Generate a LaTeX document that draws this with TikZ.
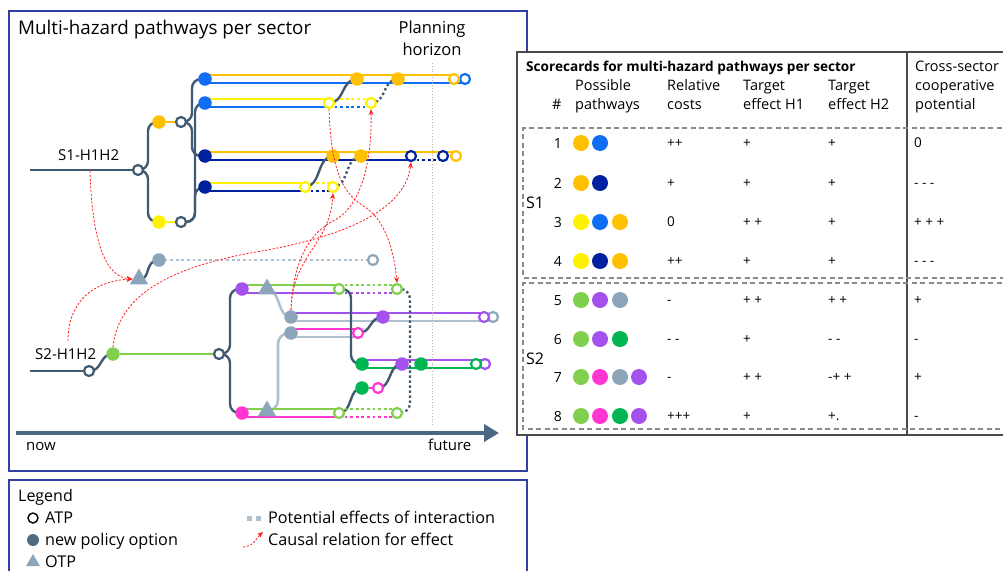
\documentclass[tikz,border=0pt]{standalone}
\usepackage{fontspec}
\setmainfont{Open Sans}
\usetikzlibrary{arrows.meta,shapes.geometric,calc}
\definecolor{slate}{HTML}{3F5A72}
\definecolor{axisc}{HTML}{4A6884}
\definecolor{lslate}{HTML}{8CA5BB}
\definecolor{lline}{HTML}{AFC0CE}
\definecolor{orng}{HTML}{FFC000}
\definecolor{blu}{HTML}{0F6EF5}
\definecolor{navy}{HTML}{0020A0}
\definecolor{ylw}{HTML}{FFF200}
\definecolor{lgrn}{HTML}{80D04E}
\definecolor{prpl}{HTML}{A452EE}
\definecolor{pnk}{HTML}{FF36D2}
\definecolor{dgrn}{HTML}{00B652}
\definecolor{redc}{HTML}{FF2222}
\definecolor{framec}{HTML}{3341A6}
\definecolor{tgray}{HTML}{4A4A4A}
\definecolor{dgray}{HTML}{8A8A8A}
\newcommand\fsz[1]{\fontsize{#1}{#1}\selectfont}
\pgfdeclarelayer{bg}\pgfdeclarelayer{fg}\pgfsetlayers{bg,main,fg}
\begin{document}
\begin{tikzpicture}[x=1pt,y=-1pt,
  fc/.style={circle,fill=#1,inner sep=0pt,minimum size=13.5pt},
  oc/.style={circle,draw=#1,line width=2.2pt,fill=white,inner sep=0pt,minimum size=10pt},
  cl/.style={draw=#1,line width=2.9pt},
  dl/.style={draw=#1,line width=2.9pt,dash pattern=on 2.8pt off 2.8pt},
  sl/.style={draw=slate,line width=2.4pt,rounded corners=9pt},
  sld/.style={draw=slate,line width=2.4pt,dash pattern=on 2.4pt off 2.6pt,rounded corners=10pt},
  ll/.style={draw=lline,line width=2.6pt,rounded corners=11pt},
  otp/.style={regular polygon,regular polygon sides=3,fill=lslate,inner sep=0pt,minimum size=21pt},
  ra/.style={draw=redc,line width=0.8pt,dash pattern=on 2.2pt off 1.6pt,-{Stealth[length=6pt,width=5pt]}},
  lbl/.style={inner sep=0pt,anchor=base west},
  tc/.style={circle,fill=#1,inner sep=0pt,minimum size=16pt},
  ht/.style={lbl,font=\fsz{14.5}},
  bt/.style={lbl,font=\fsz{13.5}},
]
\useasboundingbox (0,0) rectangle (1003,570);
\clip (0,0) rectangle (1003,570);
% frames
\draw[framec,line width=1.2pt] (9,11) rectangle (527,471);
\draw[framec,line width=1.2pt] (9,480) rectangle (527,590);
\node[lbl,font=\fsz{18.8}] (title) at (18,34) {Multi-hazard pathways per sector};
\node[inner sep=0pt,anchor=base,font=\fsz{16.5}] (ph1) at (432,33) {Planning};
\node[inner sep=0pt,anchor=base,font=\fsz{16.5}] (ph2) at (432,55) {horizon};
\coordinate (hz1) at (432,63);
\coordinate (hz2) at (432,425);
\draw[gray!60,dotted,line width=0.8pt] (hz1) -- (hz2);
% time axis
\coordinate (ts) at (16,433);
\coordinate (te) at (499,433);
\draw[axisc,line width=4.5pt,-{Triangle[length=15pt,width=17pt]}] (ts) -- (te);
\node[lbl,font=\fsz{15}] (now) at (26,450) {now};
\node[lbl,font=\fsz{15}] (fut) at (428,450) {future};
% ---------- S1 nodes
\coordinate (s1s) at (30,170);
\node[lbl,font=\fsz{15}] (s1l) at (58,160) {S1-H1H2};
\node[oc=slate] (a0) at (138,170) {};
\node[fc=orng] (o0) at (159,122) {};
\node[oc=slate] (a1) at (181,122) {};
\node[fc=ylw] (y0) at (159,222) {};
\node[oc=slate] (a2) at (181,222) {};
\node[fc=blu] (b1) at (205,79) {};
\node[fc=blu] (b2) at (205,103) {};
\node[fc=navy] (n1) at (205,156) {};
\node[fc=navy] (n2) at (205,187) {};
\node[fc=orng] (r1a) at (357,79) {};
\node[fc=orng] (r1b) at (398,79) {};
\node[oc=blu] (r1u) at (465,79) {};
\node[oc=orng] (r1o) at (454,79) {};
\node[oc=ylw] (r2a) at (329,103) {};
\node[oc=ylw] (r2b) at (371,103) {};
\node[fc=orng] (r3a) at (333,156) {};
\node[fc=orng] (r3b) at (361,156) {};
\node[oc=navy] (r3c) at (411,156) {};
\node[oc=orng] (r3o) at (456,156) {};
\node[oc=navy] (r3d) at (443,156) {};
\node[oc=ylw] (r4a) at (305,187) {};
\node[oc=ylw] (r4b) at (333,187) {};
% gray row
\node[otp] (t1) at (139,279) {};
\node[fc=lslate] (g1) at (159,260) {};
\node[oc=lslate] (g2) at (373,260) {};
% ---------- S2 nodes
\coordinate (s2s) at (30,371);
\node[lbl,font=\fsz{15}] (s2l) at (35,359) {S2-H1H2};
\node[oc=slate] (a3) at (89,371) {};
\node[fc=lgrn] (g0) at (113,354) {};
\node[oc=slate] (a4) at (219,354) {};
\node[fc=prpl] (p0) at (242,289) {};
\node[fc=pnk] (k0) at (242,413) {};
\node[oc=lgrn] (ga1) at (339,289) {};
\node[oc=lgrn] (ga2) at (397,289) {};
\node[otp] (t2) at (267,289) {};
\node[otp] (t3) at (267,411) {};
\node[fc=lslate] (m1) at (291,317) {};
\node[fc=lslate] (m2) at (291,333) {};
\node[fc=prpl] (pf1) at (383,317) {};
\node[oc=lslate] (me1) at (493,317) {};
\node[oc=prpl] (pe1) at (484,317) {};
\node[oc=pnk] (ke1) at (358,333) {};
\node[fc=dgrn] (d1) at (362,364) {};
\node[fc=prpl] (pf2) at (402,364) {};
\node[fc=dgrn] (df) at (421,364) {};
\node[oc=prpl] (pe2) at (485,364) {};
\node[oc=dgrn] (de1) at (476,364) {};
\node[fc=dgrn] (d2) at (362,388) {};
\node[oc=pnk] (ke2) at (378,388) {};
\node[oc=lgrn] (gb1) at (339,413) {};
\node[oc=lgrn] (gb2) at (397,413) {};
% ---------- lines
\begin{pgfonlayer}{bg}
% S1
\draw[sl] (s1s) -- (a0.center);
\draw[sl] (a0.center) -- (148,170) -- (148,122) -- (o0.center);
\draw[sl] (a0.center) -- (148,170) -- (148,222) -- (y0.center);
\draw[cl=orng] (o0) -- (a1);
\draw[cl=ylw] (y0) -- (a2);
\draw[sl] (a1.center) -- (192,122) -- (192,79) -- (b1.center);
\draw[sl] (a1.center) -- (192,122) -- (192,156) -- (n1.center);
\draw[sl] (a2.center) -- (195,222) -- (195,103) -- (b2.center);
\draw[sl] (a2.center) -- (195,222) -- (195,187) -- (n2.center);
\draw[cl=orng] ([yshift=4pt]b1.center) -- ([yshift=4pt]r1o.center);
\draw[cl=blu] ([yshift=-4pt]b1.center) -- ([yshift=-4pt]r1u.center);
\draw[cl=ylw] ([yshift=4pt]b2.center) -- ([yshift=4pt]r2a.center);
\draw[cl=blu] ([yshift=-4pt]b2.center) -- ([yshift=-4pt]r2a.center);
\draw[dl=ylw] ([yshift=4pt]r2a.center) -- ([yshift=4pt]r2b.center);
\draw[dl=blu] ([yshift=-4pt]r2a.center) -- ([yshift=-4pt]r2b.center);
\draw[cl=orng] ([yshift=4pt]n1.center) -- ([yshift=4pt]r3o.center);
\draw[cl=navy] ([yshift=-4pt]n1.center) -- ([yshift=-4pt]r3c.center);
\draw[dl=navy] ([yshift=-4pt]r3c.center) -- ([yshift=-4pt]r3d.center);
\draw[cl=ylw] ([yshift=4pt]n2.center) -- ([yshift=4pt]r4a.center);
\draw[cl=navy] ([yshift=-4pt]n2.center) -- ([yshift=-4pt]r4a.center);
\draw[dl=ylw] ([yshift=4pt]r4a.center) -- ([yshift=4pt]r4b.center);
\draw[dl=navy] ([yshift=-4pt]r4a.center) -- ([yshift=-4pt]r4b.center);
\draw[sl] (r2a.center) .. controls (345,103) and (341,79) .. (r1a.center);
\draw[sld] (r2b.center) .. controls (387,103) and (382,79) .. (r1b.center);
\draw[sl] (r4a.center) .. controls (321,187) and (317,156) .. (r3a.center);
\draw[sld] (r4b.center) .. controls (349,187) and (345,156) .. (r3b.center);
% gray
\draw[sl] (t1.center) .. controls (151,281) and (144,260) .. (g1.center);
\draw[dl=lline] (g1.center) -- (g2.center);
% S2
\draw[sl] (s2s) -- (a3.center);
\draw[sl] (a3.center) .. controls (103,371) and (99,354) .. (g0.center);
\draw[cl=lgrn] (g0) -- (a4);
\draw[sl] (a4.center) -- (230,354) -- (230,289) -- (p0.center);
\draw[sl] (a4.center) -- (230,354) -- (230,413) -- (k0.center);
\draw[cl=lgrn] ([yshift=4pt]p0.center) -- ([yshift=4pt]ga1.center);
\draw[cl=prpl] ([yshift=-4pt]p0.center) -- ([yshift=-4pt]ga1.center);
\draw[dl=lgrn] ([yshift=4pt]ga1.center) -- ([yshift=4pt]ga2.center);
\draw[dl=prpl] ([yshift=-4pt]ga1.center) -- ([yshift=-4pt]ga2.center);
\draw[cl=prpl] ([yshift=4pt]m1.center) -- ([yshift=4pt]pe1.center);
\draw[cl=lline] ([yshift=-4pt]m1.center) -- ([yshift=-4pt]me1.center);
\draw[cl=pnk] ([yshift=4pt]m2.center) -- ([yshift=4pt]ke1.center);
\draw[cl=lline] ([yshift=-4pt]m2.center) -- ([yshift=-4pt]ke1.center);
\draw[ll] (t2.center) .. controls (281,290) and (277,317) .. (m1.center);
\draw[ll] (t3.center) -- (278,411) -- (278,333) -- (m2.center);
\draw[sl] (ke1.center) .. controls (372,333) and (369,317) .. (pf1.center);
\draw[cl=prpl] ([yshift=4pt]d1.center) -- ([yshift=4pt]pe2.center);
\draw[cl=dgrn] ([yshift=-4pt]d1.center) -- ([yshift=-4pt]de1.center);
\draw[cl=pnk] (d2) -- (ke2);
\draw[sl] (ga1.center) -- (351,289) -- (351,364) -- (d1.center);
\draw[sl] (gb1.center) .. controls (353,413) and (348,388) .. (d2.center);
\draw[sl] (ke2.center) .. controls (392,388) and (388,364) .. (pf2.center);
\draw[cl=lgrn] ([yshift=4pt]k0.center) -- ([yshift=4pt]gb1.center);
\draw[cl=pnk] ([yshift=-4pt]k0.center) -- ([yshift=-4pt]gb1.center);
\draw[dl=lgrn] ([yshift=4pt]gb1.center) -- ([yshift=4pt]gb2.center);
\draw[dl=pnk] ([yshift=-4pt]gb1.center) -- ([yshift=-4pt]gb2.center);
\draw[sld] (ga2.center) -- (410,289) -- (410,413) -- (gb2.center);
\end{pgfonlayer}
% ---------- causal arrows
\begin{pgfonlayer}{fg}
\coordinate (c1) at (90,171);
\coordinate (c2) at (68,341);
\draw[ra] (c1) .. controls (92,240) and (105,277) .. (t1.west);
\draw[ra] (c2) .. controls (68,300) and (95,281) .. (t1.west);
\draw[ra] (g0.north) .. controls (118,300) and (160,270) .. (250,253) .. controls (330,240) and (405,215) .. (r3c.south);
\draw[ra] (r2a.south) .. controls (331,175) and (345,195) .. (365,207) .. controls (385,220) and (394,250) .. (ga2.north);
\draw[ra] (m1.north) .. controls (293,260) and (310,232) .. (335,220) .. controls (362,205) and (372,160) .. (r2b.south);
\draw[ra] (m1.north) .. controls (292,255) and (330,245) .. (r4b.south);
\end{pgfonlayer}
% ---------- legend
\node[lbl,font=\fsz{16}] (lgt) at (18,501) {Legend};
\node[circle,draw=black,line width=1.4pt,inner sep=0pt,minimum size=10pt] (lg1) at (33,518) {};
\node[lbl,font=\fsz{16.2}] (lg1t) at (45,523) {ATP};
\node[circle,fill=slate!90,inner sep=0pt,minimum size=12pt] (lg2) at (33,540) {};
\node[lbl,font=\fsz{16.2}] (lg2t) at (45,545) {new policy option};
\node[regular polygon,regular polygon sides=3,fill=lslate,inner sep=0pt,minimum size=16pt] (lg3) at (33,562) {};
\node[lbl,font=\fsz{16.2}] (lg3t) at (45,567) {OTP};
\node[fill=lline,inner sep=0pt,minimum size=5pt] (lgd1) at (249,518) {};
\node[fill=lline,inner sep=0pt,minimum size=5pt] (lgd2) at (258,518) {};
\node[lbl,font=\fsz{16.2}] (lg4t) at (268,523) {Potential effects of interaction};
\coordinate (lr1) at (243,547);
\coordinate (lr2) at (263,532);
\draw[ra] (lr1) .. controls (255,546) and (256,538) .. (lr2);
\node[lbl,font=\fsz{16.2}] (lg5t) at (268,545) {Causal relation for effect};
% ---------- table
\fill[white] (517,52) rectangle (1010,435);
\draw[tgray,line width=1.3pt] (517,52) rectangle (1010,435);
\draw[tgray,line width=1.3pt] (907,52) -- (907,435);
\draw[dgray,line width=1.2pt,dash pattern=on 5pt off 3.5pt] (1010,128) -- (523,128) -- (523,278) -- (1010,278);
\draw[dgray,line width=1.2pt,dash pattern=on 5pt off 3.5pt] (1010,283) -- (523,283) -- (523,429) -- (1010,429);
\node[lbl,font=\fsz{13.6}\bfseries] (ttl) at (526,71) {Scorecards for multi-hazard pathways per sector};
\node[ht] (h1a) at (575,90) {Possible};
\node[ht] (h1b) at (575,109) {pathways};
\node[ht] (hn) at (552,109) {\#};
\node[ht] (h2a) at (667,90) {Relative};
\node[ht] (h2b) at (667,109) {costs};
\node[ht] (h3a) at (743,90) {Target};
\node[ht] (h3b) at (743,109) {effect H1};
\node[ht] (h4a) at (828,90) {Target};
\node[ht] (h4b) at (828,109) {effect H2};
\node[ht] (h5a) at (915,71) {Cross-sector};
\node[ht] (h5b) at (915,90) {cooperative};
\node[ht] (h5c) at (915,109) {potential};
\node[lbl,font=\fsz{16}] (S1t) at (526,208) {S1};
\node[lbl,font=\fsz{16}] (S2t) at (526,364) {S2};
\foreach \i/\y/\c/\e/\f/\g in {1/143/++/+/+/0, 2/183/+/+/+/- - -, 3/222/0/+ +/+/+ + +, 4/261/++/+/+/- - -, 5/300/-/+ +/+ +/+, 6/339/- -/+/- -/-, 7/377/-/+ +/-+ +/+, 8/416/+++/+/+./-}{
  \node[inner sep=0pt,anchor=base east,font=\fsz{14}] (num\i) at (562,\y+5) {\i};
  \node[bt] (cost\i) at (667,\y+4.8) {\c};
  \node[bt] (ha\i) at (743,\y+4.8) {\e};
  \node[bt] (hb\i) at (828,\y+4.8) {\f};
  \node[bt] (cs\i) at (914,\y+4.8) {\g};
}
\node[tc=orng] (p1a) at (581,143) {}; \node[tc=blu] (p1b) at (600,143) {};
\node[tc=orng] (p2a) at (581,183) {}; \node[tc=navy] (p2b) at (600,183) {};
\node[tc=ylw] (p3a) at (581,222) {}; \node[tc=blu] (p3b) at (600,222) {}; \node[tc=orng] (p3c) at (620,222) {};
\node[tc=ylw] (p4a) at (581,261) {}; \node[tc=navy] (p4b) at (600,261) {}; \node[tc=orng] (p4c) at (620,261) {};
\node[tc=lgrn] (p5a) at (581,300) {}; \node[tc=prpl] (p5b) at (600,300) {}; \node[tc=lslate] (p5c) at (620,300) {};
\node[tc=lgrn] (p6a) at (581,339) {}; \node[tc=prpl] (p6b) at (600,339) {}; \node[tc=dgrn] (p6c) at (620,339) {};
\node[tc=lgrn] (p7a) at (581,377) {}; \node[tc=pnk] (p7b) at (600,377) {}; \node[tc=lslate] (p7c) at (620,377) {}; \node[tc=prpl] (p7d) at (639,377) {};
\node[tc=lgrn] (p8a) at (581,416) {}; \node[tc=pnk] (p8b) at (600,416) {}; \node[tc=dgrn] (p8c) at (620,416) {}; \node[tc=prpl] (p8d) at (639,416) {};
\end{tikzpicture}
\end{document}
